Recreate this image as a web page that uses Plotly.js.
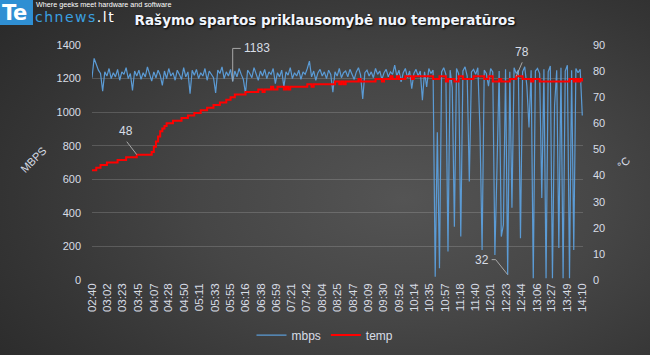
<!DOCTYPE html>
<html><head><meta charset="utf-8">
<script src="https://cdn.plot.ly/plotly-3.0.1.min.js"></script>
<style>
html,body{margin:0;padding:0;width:650px;height:355px;overflow:hidden;background:#2a2a2a;}
#wrap{position:relative;width:650px;height:355px;background:radial-gradient(ellipse 78% 85% at 62% 56%, #545454 0%, #464646 40%, #353535 75%, #2a2a2a 100%);}
#chart{position:absolute;left:0;top:0;width:650px;height:355px;}
#logobox{position:absolute;left:0;top:0;width:33px;height:25px;background:#2f8fd3;}
#logote{position:absolute;left:2px;top:1px;font-family:"DejaVu Sans";font-weight:bold;font-size:21px;line-height:25px;color:#fff;letter-spacing:-0.5px;}
#logorest{position:absolute;left:35px;top:11px;font-family:"DejaVu Sans";font-size:14px;line-height:13px;color:#3aa0e0;letter-spacing:1.5px;}
#logorest span{color:#fff;}
#tag{position:absolute;left:36px;top:0px;font-family:"Liberation Sans";font-size:7.2px;line-height:9px;color:#fff;}
</style></head>
<body><div id="wrap">
<div id="chart"></div>
<div id="logobox"></div><div id="logote">Te</div>
<div id="logorest">chnews<span>.lt</span></div>
<div id="tag">Where geeks meet hardware and software</div>
</div>
<script>
// sampling: one reading every 3 s, starting at 02:40 (160 s)
const startSec = 160;
const stepSec = 3;

const mbps = [
1205,1320,1285,1250,1230,1125,1240,1215,1260,1200,
1235,1210,1255,1190,1240,1225,1265,1200,1230,1130,
1245,1215,1250,1195,1235,1210,1270,1225,1185,1240,
1205,1250,1220,1160,1245,1200,1260,1215,1235,1190,
1250,1225,1195,1265,1210,1240,1110,1250,1220,1255,
1200,1235,1215,1260,1190,1245,1225,1205,1115,1250,
1230,1270,1200,1240,1215,1255,1183,1245,1210,1260,
1225,1195,1111,1250,1230,1205,1265,1220,1190,1245,
1215,1255,1200,1240,1225,1260,1170,1235,1210,1250,
1150,1240,1220,1265,1200,1235,1215,1250,1195,1240,
1225,1260,1304,1210,1245,1190,1235,1255,1215,1240,
1200,1250,1225,1119,1240,1215,1260,1205,1235,1245,
1210,1255,1225,1195,1240,1265,1220,1079,1235,1250,
1215,1240,1205,1260,1225,1245,1195,1235,1255,1210,
1240,1225,1280,1215,1250,1180,1235,1260,1205,1245,
1140,1230,1255,1215,1245,1071,1240,1150,1260,1230,
1250,20,880,70,1240,1265,1225,170,1250,1145,
318,1260,1230,259,1245,1270,1215,587,1240,1255,
1225,1265,900,179,1250,1230,1155,1260,1240,149,
675,1245,259,330,1255,32,1240,430,1265,1230,
1250,249,1240,1270,1155,908,1250,10,1245,1260,
1230,488,1255,10,1240,1275,10,1040,1250,191,
1265,10,1245,1280,10,1250,179,1260,1235,1255,
980
];

const temp = [
42,42,43,43,44,44,44,45,45,45,
45,45,46,46,46,46,47,47,47,47,
47,48,48,48,48,48,48,48,49,51,
53,55,57,58,59,60,60,60,61,61,
61,61,62,62,62,63,63,63,64,64,
64,65,65,65,66,66,66,67,67,67,
68,68,68,69,69,70,70,71,71,71,
71,71,72,72,72,72,72,72,73,73,
72,73,73,73,74,73,73,74,74,74,
73,74,73,74,74,74,74,74,74,74,
74,75,75,74,75,75,75,75,75,75,
75,75,75,75,76,76,75,76,75,76,
76,76,76,76,76,77,76,76,76,76,
76,76,76,77,77,77,76,77,77,77,
78,77,77,78,77,77,77,78,78,78,
77,78,78,78,78,78,78,78,78,78,
77,77,77,78,78,78,76,77,77,77,
76,76,78,78,77,77,77,77,77,78,
78,78,78,78,77,77,78,78,76,76,
76,77,76,76,76,76,77,77,77,78,
78,78,77,77,77,77,76,77,77,77,
76,76,76,76,76,76,76,76,76,76,
76,76,76,76,77,77,76,77,76,77,
76
];

const tickLabels = ['02:40','03:02','03:23','03:45','04:07','04:28','04:50','05:11','05:33','05:55',
'06:16','06:38','06:59','07:21','07:42','08:04','08:25','08:47','09:09','09:30','09:52','10:14',
'10:35','10:57','11:18','11:40','12:01','12:23','12:44','13:06','13:27','13:49','14:10'];

const titleText = 'Rašymo spartos priklausomybė nuo temperatūros';
const seriesNames = ['mbps','temp'];

const times = mbps.map((_, i) => startSec + i * stepSec);
const toSec = s => { const p = s.split(':'); return (+p[0]) * 60 + (+p[1]); };
const tickVals = tickLabels.map(toSec);

const txtCol = '#d8dde6';
const leadCol = '#a8a8a8';
const tickFont = {family:'Liberation Sans', size:11, color:txtCol};

const traces = [
  {x: times, y: mbps, name: seriesNames[0], type:'scatter', mode:'lines',
   line:{color:'#5b9bd5', width:1.2}, yaxis:'y'},
  {x: times, y: temp, name: seriesNames[1], type:'scatter', mode:'lines',
   line:{color:'#ff0000', width:2, shape:'hv'}, yaxis:'y2'}
];

const lead = (xa, ya, yref, path) => ({type:'path', xref:'x', yref:yref,
  xsizemode:'pixel', ysizemode:'pixel', xanchor:xa, yanchor:ya, path:path,
  line:{color:leadCol, width:1}});
const lab = (xa, ya, yref, text, xs, ys) => ({x:xa, y:ya, xref:'x', yref:yref, text:text,
  showarrow:false, xshift:xs, yshift:ys, font:{family:'Liberation Sans', size:12, color:txtCol}});

const layout = {
  width:650, height:355,
  paper_bgcolor:'rgba(0,0,0,0)', plot_bgcolor:'rgba(0,0,0,0)',
  margin:{l:92, r:67, t:45, b:75},
  title:{text:titleText, x:0.5, xanchor:'center', xref:'container', y:0.944, yref:'container', yanchor:'middle',
    font:{family:'DejaVu Sans', size:13.5, weight:'bold', color:'#f0f4fc', shadow:'1px 1px 2px #000'}},
  showlegend:true,
  legend:{orientation:'h', x:0.5, xanchor:'center', xref:'container', y:0.056, yref:'container', yanchor:'middle',
    font:{family:'Liberation Sans', size:12, color:txtCol}, bgcolor:'rgba(0,0,0,0)', itemwidth:30},
  xaxis:{type:'linear', range:[startSec, 851], tickvals:tickVals, ticktext:tickLabels, tickangle:-90,
    showgrid:false, zeroline:false, showline:false, ticks:'', tickfont:{family:'Liberation Sans', size:11.5, color:txtCol}},
  yaxis:{range:[0,1400], dtick:200, tick0:0, showgrid:true, gridcolor:'rgba(255,255,255,0.16)', gridwidth:1,
    zeroline:false, ticks:'', tickfont:tickFont, ticklabelstandoff:10},
  yaxis2:{range:[0,90], dtick:10, tick0:0, overlaying:'y', side:'right', showgrid:false, zeroline:false,
    ticks:'', tickfont:tickFont, ticklabelstandoff:9},
  shapes:[
    lead(358, 1183, 'y', 'M0,0 L0,33 L8,33'),
    lead(223, 48, 'y2', 'M0,0 L-10,13'),
    lead(757, 78, 'y2', 'M0,0 L6,14'),
    lead(745, 32, 'y', 'M0,0 L-12,15 L-16,15')
  ],
  annotations:[
    lab(358, 1183, 'y', '1183', 24, 33),
    lab(223, 48, 'y2', '48', -11, 24),
    lab(757, 78, 'y2', '78', 6, 24),
    lab(745, 32, 'y', '32', -26, 15),
    {xref:'paper', yref:'paper', x:-0.12, y:0.51, xanchor:'center', yanchor:'middle', text:'MBPS', showarrow:false, textangle:-45,
     font:{family:'Liberation Sans', size:11, color:txtCol}},
    {xref:'paper', yref:'paper', x:1.082, y:0.50, xanchor:'center', yanchor:'middle', text:'°C', showarrow:false, textangle:-45,
     font:{family:'Liberation Sans', size:11, color:txtCol}}
  ]
};

Plotly.newPlot('chart', traces, layout, {staticPlot:true, displayModeBar:false});
</script>
</body></html>
